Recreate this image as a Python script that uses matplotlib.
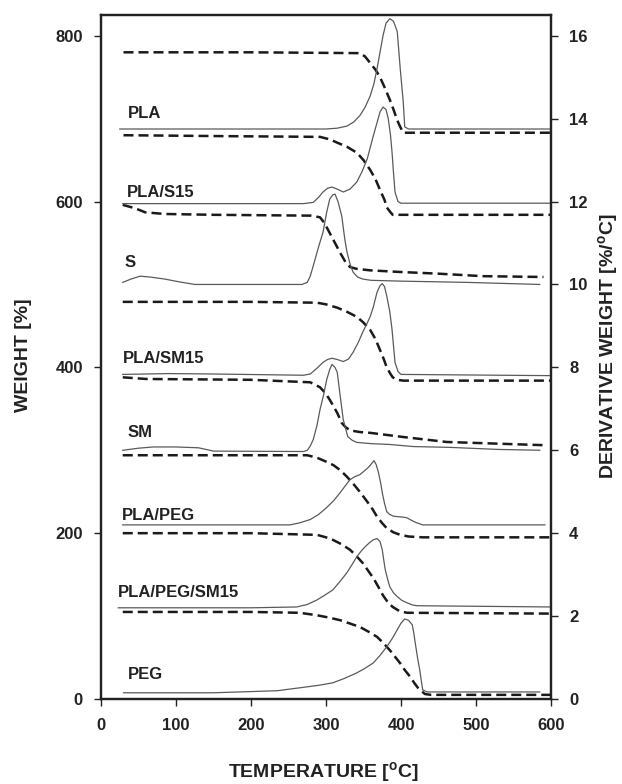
import matplotlib
matplotlib.use("Agg")
import matplotlib.pyplot as plt

plt.rcParams['font.family'] = ['Liberation Sans', 'DejaVu Sans']
plt.rcParams['font.weight'] = 'bold'
plt.rcParams['mathtext.fontset'] = 'custom'
plt.rcParams['mathtext.rm'] = 'Liberation Sans:bold'

# TG curves (dashed, left axis, offset weight %)
PLA_TG_T = [30, 200, 345, 352, 359, 366, 372, 378, 385, 390, 395, 399, 403, 410, 600]
PLA_TG = [780, 780, 779, 775, 767, 759, 750, 738, 723, 711, 698, 690, 683, 683, 683]

PLA_S15_TG_T = [30, 150, 292, 305, 315, 328, 341, 350, 359, 366, 372, 378, 381, 386, 389, 395, 600]
PLA_S15_TG = [680, 679, 678, 675, 671, 666, 659, 650, 638, 627, 614, 602, 593, 587, 584, 584, 584]

S_TG_T = [29, 45, 59, 85, 150, 280, 292, 298, 305, 312, 319, 326, 332, 340, 359, 400, 450, 509, 590]
S_TG = [596, 592, 587, 585, 584, 583, 581, 574, 562, 550, 538, 527, 521, 519, 517, 515, 513, 510, 509]

PLA_SM15_TG_T = [29, 200, 288, 300, 315, 328, 341, 350, 359, 366, 372, 377, 381, 386, 389, 395, 403, 600]
PLA_SM15_TG = [479, 479, 478, 476, 472, 467, 461, 454, 445, 434, 421, 410, 400, 392, 388, 385, 384, 384]

SM_TG_T = [29, 60, 200, 279, 292, 299, 305, 310, 315, 321, 326, 332, 345, 359, 403, 461, 595]
SM_TG = [388, 386, 385, 382, 376, 369, 361, 353, 345, 333, 328, 324, 322, 321, 316, 310, 306]

PLA_PEG_TG_T = [29, 200, 275, 288, 301, 310, 319, 328, 336, 345, 355, 362, 368, 375, 381, 390, 399, 410, 429, 600]
PLA_PEG_TG = [294, 294, 294, 291, 286, 282, 276, 268, 260, 250, 238, 229, 220, 212, 206, 201, 198, 196, 195, 195]

PLA_PEG_SM15_TG_T = [29, 200, 288, 300, 309, 320, 332, 340, 349, 356, 363, 370, 376, 383, 389, 398, 408, 600]
PLA_PEG_SM15_TG = [200, 200, 198, 195, 192, 187, 180, 173, 164, 155, 146, 135, 125, 116, 111, 106, 104, 103]

PEG_TG_T = [29, 200, 265, 288, 305, 319, 332, 345, 357, 368, 377, 385, 392, 399, 405, 412, 418, 423, 428, 432, 440, 600]
PEG_TG = [105, 105, 104, 101, 98, 95, 91, 87, 81, 75, 67, 59, 51, 43, 35, 27, 19, 13, 9, 6, 5, 5]

# DTG curves (solid, right axis, %/oC)
PLA_DTG_T = [25, 300, 315, 328, 337, 345, 352, 359, 364, 368, 372, 376, 380, 385, 390, 395, 399, 403, 405, 410, 600]
PLA_DTG = [13.75, 13.75, 13.77, 13.82, 13.92, 14.07, 14.27, 14.55, 14.85, 15.2, 15.6, 16.0, 16.3, 16.41, 16.35, 16.1, 15.2, 14.4, 13.8, 13.75, 13.75]

PLA_S15_DTG_T = [29, 270, 283, 290, 296, 302, 308, 315, 323, 332, 341, 348, 355, 363, 368, 372, 376, 380, 383, 386, 388, 390, 392, 396, 400, 600]
PLA_S15_DTG = [11.95, 11.95, 11.98, 12.1, 12.23, 12.32, 12.35, 12.3, 12.23, 12.3, 12.47, 12.72, 13.03, 13.58, 13.9, 14.16, 14.28, 14.22, 14.0, 13.6, 13.2, 12.7, 12.23, 12.0, 11.96, 11.96]

S_DTG_T = [29, 40, 52, 65, 85, 105, 125, 200, 268, 275, 279, 283, 290, 296, 301, 305, 309, 312, 316, 321, 325, 328, 332, 336, 342, 349, 360, 400, 488, 585]
S_DTG = [10.05, 10.13, 10.2, 10.18, 10.13, 10.06, 10.0, 10.0, 10.0, 10.05, 10.2, 10.45, 10.9, 11.26, 11.75, 12.06, 12.16, 12.18, 12.0, 11.65, 11.1, 10.78, 10.5, 10.3, 10.18, 10.13, 10.1, 10.08, 10.05, 10.0]

PLA_SM15_DTG_T = [29, 90, 150, 270, 279, 288, 296, 302, 308, 315, 323, 330, 336, 343, 349, 355, 359, 363, 368, 372, 375, 378, 381, 385, 388, 392, 396, 400, 600]
PLA_SM15_DTG = [7.83, 7.85, 7.84, 7.81, 7.84, 7.98, 8.12, 8.19, 8.22, 8.19, 8.14, 8.2, 8.36, 8.6, 8.85, 9.07, 9.23, 9.45, 9.81, 9.97, 10.02, 9.95, 9.72, 9.35, 8.92, 8.12, 7.9, 7.83, 7.8]

SM_DTG_T = [29, 50, 70, 100, 130, 150, 270, 275, 279, 283, 288, 292, 297, 301, 305, 308, 312, 315, 319, 323, 329, 335, 341, 360, 385, 416, 465, 530, 585]
SM_DTG = [6.0, 6.05, 6.08, 6.08, 6.06, 5.98, 5.97, 6.0, 6.1, 6.26, 6.6, 6.98, 7.35, 7.71, 7.95, 8.07, 8.0, 7.88, 7.3, 6.74, 6.33, 6.24, 6.19, 6.16, 6.14, 6.09, 6.07, 6.02, 6.0]

PLA_PEG_DTG_T = [29, 200, 252, 265, 279, 290, 301, 310, 319, 326, 332, 338, 345, 351, 356, 360, 364, 367, 370, 373, 375, 378, 381, 385, 390, 395, 402, 408, 415, 421, 429, 592]
PLA_PEG_DTG = [4.2, 4.2, 4.2, 4.25, 4.33, 4.45, 4.62, 4.78, 4.98, 5.15, 5.29, 5.36, 5.41, 5.5, 5.58, 5.66, 5.75, 5.65, 5.46, 5.2, 4.98, 4.72, 4.52, 4.45, 4.41, 4.4, 4.39, 4.37, 4.3, 4.25, 4.2, 4.2]

PLA_PEG_SM15_DTG_T = [23, 200, 261, 275, 288, 298, 309, 318, 328, 335, 341, 347, 352, 358, 363, 368, 372, 375, 377, 379, 382, 385, 390, 395, 401, 408, 415, 421, 600]
PLA_PEG_SM15_DTG = [2.2, 2.2, 2.22, 2.28, 2.39, 2.5, 2.63, 2.82, 3.05, 3.25, 3.43, 3.57, 3.67, 3.77, 3.84, 3.87, 3.8, 3.6, 3.35, 3.12, 2.9, 2.71, 2.56, 2.47, 2.38, 2.32, 2.27, 2.25, 2.22]

PEG_DTG_T = [30, 150, 235, 265, 290, 309, 325, 341, 352, 363, 372, 381, 388, 395, 400, 405, 410, 415, 417, 419, 422, 425, 427, 429, 435, 585]
PEG_DTG = [0.15, 0.15, 0.2, 0.27, 0.33, 0.39, 0.5, 0.63, 0.74, 0.87, 1.05, 1.26, 1.45, 1.67, 1.83, 1.93, 1.9, 1.79, 1.6, 1.35, 1.0, 0.7, 0.45, 0.22, 0.17, 0.17]

labels = ["PLA", "PLA/S15", "S", "PLA/SM15", "SM", "PLA/PEG", "PLA/PEG/SM15", "PEG"]
label_x = [36, 35, 32, 29, 35, 28, 23, 36]
label_y = [706, 611, 527, 411, 322, 221, 129, 30]

tg_curves = [(PLA_TG_T, PLA_TG), (PLA_S15_TG_T, PLA_S15_TG), (S_TG_T, S_TG),
             (PLA_SM15_TG_T, PLA_SM15_TG), (SM_TG_T, SM_TG), (PLA_PEG_TG_T, PLA_PEG_TG),
             (PLA_PEG_SM15_TG_T, PLA_PEG_SM15_TG), (PEG_TG_T, PEG_TG)]
dtg_curves = [(PLA_DTG_T, PLA_DTG), (PLA_S15_DTG_T, PLA_S15_DTG), (S_DTG_T, S_DTG),
              (PLA_SM15_DTG_T, PLA_SM15_DTG), (SM_DTG_T, SM_DTG), (PLA_PEG_DTG_T, PLA_PEG_DTG),
              (PLA_PEG_SM15_DTG_T, PLA_PEG_SM15_DTG), (PEG_DTG_T, PEG_DTG)]

W, H = 622, 784
fig = plt.figure(figsize=(W / 100, H / 100), dpi=100)
ax = fig.add_axes([101 / W, 1 - 699 / H, 450 / W, 684 / H])
ax2 = ax.twinx()

for t, w in tg_curves:
    ax.plot(t, w, color='#1a1a1a', lw=1.8, dashes=(4, 2))
for t, d in dtg_curves:
    ax2.plot(t, d, color='#5a5a5a', lw=0.9)

for name, lx, ly in zip(labels, label_x, label_y):
    ax.text(lx, ly, name, fontsize=12, fontweight='bold', color='#222222', va='center')

ax.set_xlim(0, 600)
ax.set_ylim(0, 825)
ax2.set_ylim(0, 16.5)
ax.set_xticks(range(0, 601, 100))
ax.set_yticks(range(0, 801, 200))
ax2.set_yticks(range(0, 17, 2))

for a in (ax, ax2):
    a.tick_params(direction='out', length=5, width=1.0, labelsize=12, colors='#222222', pad=8)
    for s in a.spines.values():
        s.set_linewidth(1.6)
        s.set_color('#222222')
ax.tick_params(axis='x', pad=9)
for lab in ax.get_xticklabels() + ax.get_yticklabels() + ax2.get_yticklabels():
    lab.set_fontweight('bold')

fig.text(323 / W, 1 - 778 / H, r'TEMPERATURE [$^{\mathrm{o}}$C]', fontsize=14,
         fontweight='bold', color='#222222', ha='center', va='baseline')
fig.text(24 / W, 1 - 355 / H, 'WEIGHT [%]', fontsize=14, fontweight='bold',
         color='#222222', ha='center', va='center', rotation=90)
fig.text(609 / W, 1 - 346 / H, r'DERIVATIVE WEIGHT [%/$^{\mathrm{o}}$C]', fontsize=14,
         fontweight='bold', color='#222222', ha='center', va='center', rotation=90)

fig.savefig('out.png', dpi=100)
